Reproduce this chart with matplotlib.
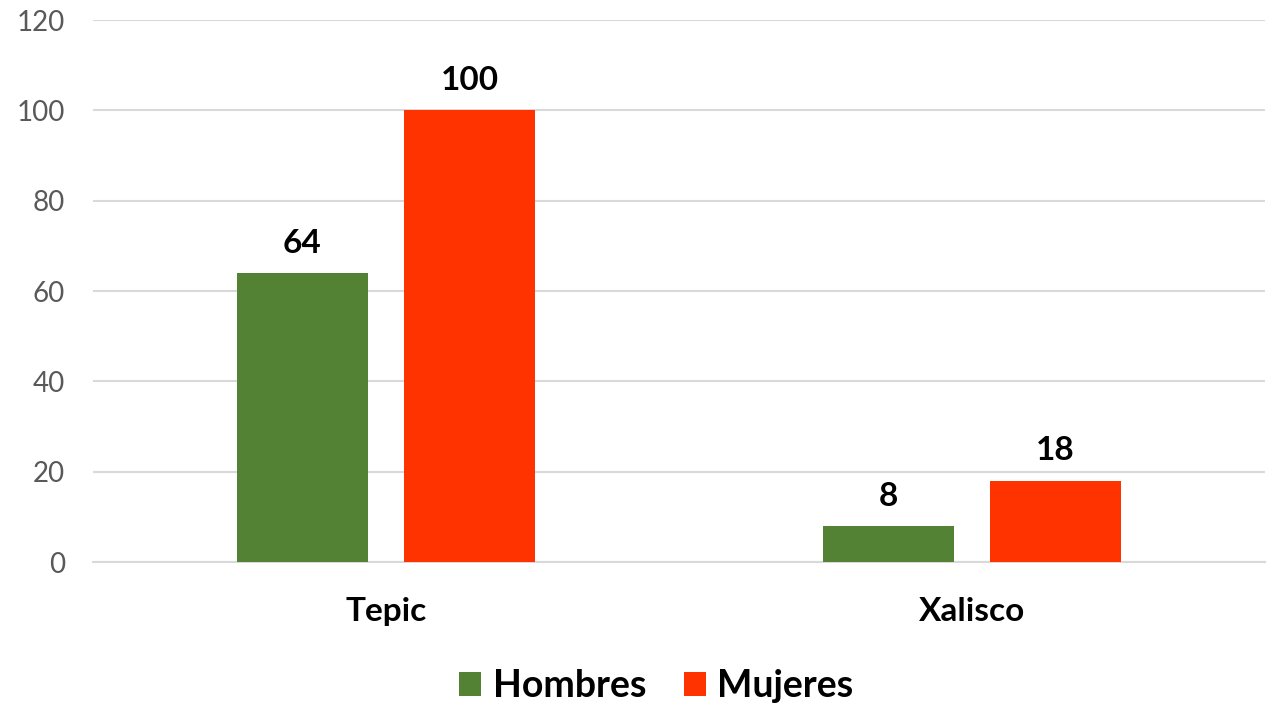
import matplotlib
matplotlib.use("Agg")
import matplotlib.pyplot as plt
import numpy as np

categories = ["Tepic", "Xalisco"]
series_names = ["Hombres", "Mujeres"]
hombres = [64, 8]
mujeres = [100, 18]
yticks = [0, 20, 40, 60, 80, 100, 120]

colors = ["#548235", "#FF3300"]
plt.rcParams['font.family'] = ['Lato', 'DejaVu Sans']

fig = plt.figure(figsize=(12.72, 7.05), dpi=100)
ax = fig.add_axes([0.0731, 0.2028, 0.9214, 0.7688])

x = np.arange(len(categories))
w = 0.224
off = 0.1425
b1 = ax.bar(x - off, hombres, w, color=colors[0], label=series_names[0], zorder=3)
b2 = ax.bar(x + off, mujeres, w, color=colors[1], label=series_names[1], zorder=3)
for bars, vals in ((b1, hombres), (b2, mujeres)):
    for r, v in zip(bars, vals):
        ax.annotate(str(v), (r.get_x() + r.get_width() / 2, v), xytext=(0, 11),
                    textcoords="offset points", ha="center", va="bottom",
                    fontsize=24, fontweight="bold", color="#000000")

ax.set_xlim(-0.5, 1.5)
ax.set_ylim(0, 120)
ax.set_yticks(yticks)
ax.set_yticklabels([str(t) for t in yticks], fontsize=20, color="#595959")
ax.set_xticks(x)
ax.set_xticklabels(categories, fontsize=24, fontweight="bold", color="#000000")
ax.tick_params(axis="both", length=0)
ax.tick_params(axis="y", pad=20)
ax.tick_params(axis="x", pad=25)
ax.grid(axis="y", color="#D9D9D9", linewidth=1.5, zorder=0)
for s in ["top", "right", "left"]:
    ax.spines[s].set_visible(False)
ax.spines["bottom"].set_color("#D9D9D9")
ax.spines["bottom"].set_linewidth(1.5)

fig.legend(loc="center", bbox_to_anchor=(0.516, 0.027), ncol=2, frameon=False,
           prop={"size": 27, "weight": "bold"}, handlelength=0.6, handleheight=0.6,
           handletextpad=0.3, columnspacing=1.0)

fig.savefig("out.png", dpi=100)
